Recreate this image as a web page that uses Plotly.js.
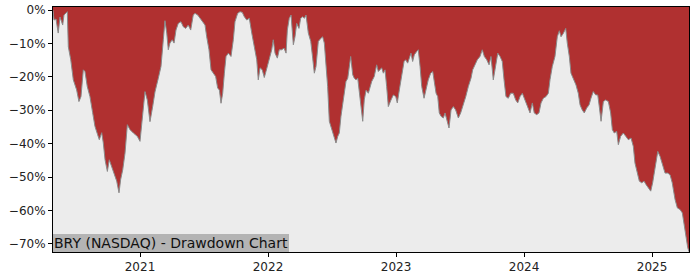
<!DOCTYPE html>
<html>
<head>
<meta charset="utf-8">
<script src="https://cdn.plot.ly/plotly-3.0.1.min.js"></script>
<style>html,body{margin:0;padding:0;background:#fff;}#chart{width:700px;height:280px;}</style>
</head>
<body>
<div id="chart"></div>
<script>
// Time as decimal years, drawdown in percent
const years = [
2020.320,2020.328,2020.344,2020.361,2020.375,2020.396,2020.406,2020.422,2020.432,2020.440,
2020.459,2020.479,2020.505,2020.523,2020.539,2020.557,2020.570,2020.588,2020.609,2020.630,
2020.648,2020.669,2020.682,2020.701,2020.713,2020.727,2020.745,2020.760,2020.779,2020.797,
2020.818,2020.836,2020.849,2020.865,2020.883,2020.901,2020.922,2020.948,2020.979,2021.000,
2021.021,2021.039,2021.057,2021.078,2021.099,2021.117,2021.143,2021.164,2021.182,2021.195,
2021.209,2021.221,2021.234,2021.252,2021.266,2021.281,2021.299,2021.320,2021.338,2021.357,
2021.377,2021.396,2021.416,2021.430,2021.451,2021.469,2021.490,2021.508,2021.521,2021.539,
2021.555,2021.573,2021.591,2021.607,2021.620,2021.633,2021.646,2021.659,2021.672,2021.690,
2021.711,2021.729,2021.742,2021.763,2021.781,2021.799,2021.815,2021.834,2021.854,2021.873,
2021.891,2021.912,2021.924,2021.938,2021.955,2021.971,2021.984,2022.010,2022.029,2022.041,
2022.055,2022.073,2022.088,2022.107,2022.125,2022.141,2022.151,2022.166,2022.180,2022.198,
2022.211,2022.224,2022.242,2022.255,2022.271,2022.284,2022.297,2022.315,2022.334,2022.349,
2022.362,2022.375,2022.393,2022.412,2022.427,2022.440,2022.453,2022.466,2022.479,2022.492,
2022.505,2022.518,2022.531,2022.545,2022.557,2022.570,2022.588,2022.609,2022.623,2022.635,
2022.646,2022.662,2022.674,2022.688,2022.701,2022.713,2022.727,2022.740,2022.752,2022.766,
2022.784,2022.810,2022.830,2022.849,2022.862,2022.875,2022.888,2022.901,2022.914,2022.927,
2022.940,2022.961,2022.979,2022.998,2023.010,2023.026,2023.045,2023.063,2023.076,2023.091,
2023.104,2023.117,2023.130,2023.143,2023.162,2023.174,2023.188,2023.201,2023.219,2023.234,
2023.252,2023.271,2023.287,2023.299,2023.313,2023.326,2023.338,2023.352,2023.370,2023.383,
2023.401,2023.414,2023.430,2023.448,2023.466,2023.487,2023.505,2023.526,2023.545,2023.565,
2023.586,2023.599,2023.617,2023.635,2023.656,2023.674,2023.690,2023.709,2023.727,2023.742,
2023.760,2023.776,2023.795,2023.813,2023.830,2023.844,2023.859,2023.877,2023.896,2023.916,
2023.935,2023.951,2023.969,2023.987,2024.008,2024.026,2024.047,2024.065,2024.080,2024.099,
2024.117,2024.133,2024.151,2024.172,2024.190,2024.203,2024.221,2024.242,2024.260,2024.276,
2024.289,2024.307,2024.326,2024.338,2024.354,2024.367,2024.385,2024.406,2024.424,2024.438,
2024.455,2024.471,2024.490,2024.508,2024.523,2024.541,2024.560,2024.576,2024.588,2024.602,
2024.620,2024.638,2024.659,2024.677,2024.690,2024.705,2024.724,2024.737,2024.755,2024.776,
2024.795,2024.815,2024.836,2024.854,2024.867,2024.885,2024.901,2024.920,2024.938,2024.953,
2024.971,2024.990,2025.005,2025.023,2025.045,2025.063,2025.080,2025.102,2025.123,2025.141,
2025.158,2025.180,2025.198,2025.219,2025.237,2025.252,2025.266,2025.279,2025.289
];
const drawdown = [
0,-3.0,-2.7,-6.9,-2.1,-4.5,-1.5,-0.9,-0.5,-11.0,
-14.9,-20.9,-23.9,-27.4,-25.9,-17.9,-18.4,-22.9,-25.9,-30.7,
-34.8,-37.3,-38.8,-36.7,-39.7,-44.8,-48.3,-44.8,-46.8,-48.7,
-51.2,-54.7,-50.7,-47.8,-42.8,-34.3,-35.8,-36.8,-37.8,-39.3,
-30.7,-24.4,-26.9,-33.4,-28.9,-24.5,-20.4,-16.9,-8.9,-3.2,
-6.9,-11.9,-9.9,-8.9,-9.9,-6.0,-4.0,-3.5,-5.0,-5.5,
-4.5,-6.0,-1.5,-1.0,-1.5,-2.5,-3.5,-4.5,-8.0,-11.9,
-17.9,-18.9,-19.9,-23.4,-23.9,-27.9,-24.9,-18.9,-13.9,-12.9,
-13.9,-8.9,-3.5,-1.0,-0.5,-0.7,-2.0,-3.0,-2.5,-6.9,
-10.9,-14.9,-20.9,-17.3,-17.9,-20.2,-18.4,-14.4,-11.9,-8.9,
-12.9,-14.4,-11.9,-11.9,-11.4,-12.9,-6.0,-2.5,-1.5,-10.4,
-8.0,-4.0,-5.5,-2.5,-2.0,-2.5,-1.5,-6.9,-9.4,-14.4,
-18.9,-16.9,-9.4,-8.5,-8.0,-9.9,-16.9,-22.9,-33.3,-34.8,
-36.8,-38.3,-39.8,-37.8,-36.8,-31.8,-26.9,-21.4,-20.4,-16.9,
-13.9,-19.4,-20.4,-20.9,-20.4,-24.4,-28.9,-33.3,-26.9,-24.0,
-24.9,-21.4,-19.9,-16.4,-18.4,-17.9,-17.3,-18.9,-17.9,-22.9,
-28.9,-26.9,-25.4,-25.9,-27.8,-23.9,-19.4,-15.4,-14.9,-15.9,
-14.4,-12.9,-15.4,-13.4,-12.4,-11.9,-16.9,-22.9,-26.4,-23.4,
-20.9,-18.9,-18.4,-21.4,-24.9,-25.9,-30.8,-31.8,-32.3,-30.8,
-33.3,-35.3,-29.9,-28.9,-29.9,-32.3,-30.8,-28.4,-25.9,-22.9,
-20.4,-17.9,-16.4,-14.9,-13.9,-11.9,-13.9,-14.9,-16.4,-13.9,
-20.9,-16.9,-12.9,-13.9,-15.4,-20.9,-25.9,-26.4,-24.9,-24.9,
-26.9,-27.8,-25.9,-24.9,-26.9,-28.9,-30.8,-27.8,-30.8,-31.3,
-30.8,-27.8,-26.4,-25.9,-24.9,-20.9,-16.9,-13.9,-8.0,-6.2,
-8.0,-7.0,-5.5,-9.9,-13.9,-18.9,-20.4,-22.4,-24.9,-28.4,
-29.9,-30.8,-29.3,-28.4,-26.4,-24.4,-25.4,-25.4,-28.9,-33.3,
-27.4,-26.9,-27.4,-30.8,-35.8,-36.8,-36.3,-40.3,-37.8,-36.8,
-37.8,-38.8,-38.3,-40.8,-45.8,-48.8,-51.2,-51.7,-51.2,-52.2,
-53.2,-54.2,-51.7,-47.8,-42.3,-43.8,-46.3,-48.8,-48.8,-49.3,
-51.7,-56.7,-59.2,-59.7,-60.7,-64.7,-68.7,-71.1,-72.3
];
const yearTicks = [2021, 2022, 2023, 2024, 2025];
const yearTickText = ['2021', '2022', '2023', '2024', '2025'];
const pctTicks = [0, -10, -20, -30, -40, -50, -60, -70];
const pctTickText = ['0%', '\u221210%', '\u221220%', '\u221230%', '\u221240%', '\u221250%', '\u221260%', '\u221270%'];
const chartLabel = 'BRY (NASDAQ) - Drawdown Chart';

// Upper edge for the filled area (above the visible range)
const topEdge = years.map(() => 5);

const traces = [
  { x: years, y: topEdge, type: 'scatter', mode: 'lines', line: { width: 0, color: 'rgba(0,0,0,0)' }, hoverinfo: 'skip', showlegend: false },
  { x: years, y: drawdown, type: 'scatter', mode: 'lines', fill: 'tonexty',
    fillcolor: '#b03030', line: { color: '#8a8a8a', width: 1 }, showlegend: false }
];

const layout = {
  width: 700, height: 280,
  margin: { l: 53, r: 11, t: 7, b: 28, pad: 0 },
  paper_bgcolor: '#ffffff',
  plot_bgcolor: '#ececec',
  showlegend: false,
  font: { family: 'DejaVu Sans, sans-serif', size: 12, color: '#222' },
  xaxis: {
    range: [2020.3203, 2025.289], showgrid: false, zeroline: false,
    tickvals: yearTicks, ticktext: yearTickText,
    ticks: 'outside', ticklen: 4, tickwidth: 1, tickcolor: '#000',
    showline: true, linecolor: '#000', linewidth: 1, mirror: true,
    tickfont: { size: 12, color: '#222' }
  },
  yaxis: {
    range: [-72.4, 0.9], showgrid: false, zeroline: false,
    tickvals: pctTicks, ticktext: pctTickText,
    ticks: 'outside', ticklen: 4, tickwidth: 1, tickcolor: '#000',
    showline: true, linecolor: '#000', linewidth: 1, mirror: true,
    tickfont: { size: 12, color: '#222' }
  },
  annotations: [{
    text: chartLabel, xref: 'paper', yref: 'paper', x: 0, y: 0,
    xanchor: 'left', yanchor: 'bottom', showarrow: false,
    bgcolor: '#b4b4b4', borderpad: 1, borderwidth: 0,
    font: { family: 'DejaVu Sans, sans-serif', size: 14, color: '#111' }
  }]
};

Plotly.newPlot('chart', traces, layout, { staticPlot: true, displayModeBar: false });
</script>
</body>
</html>
